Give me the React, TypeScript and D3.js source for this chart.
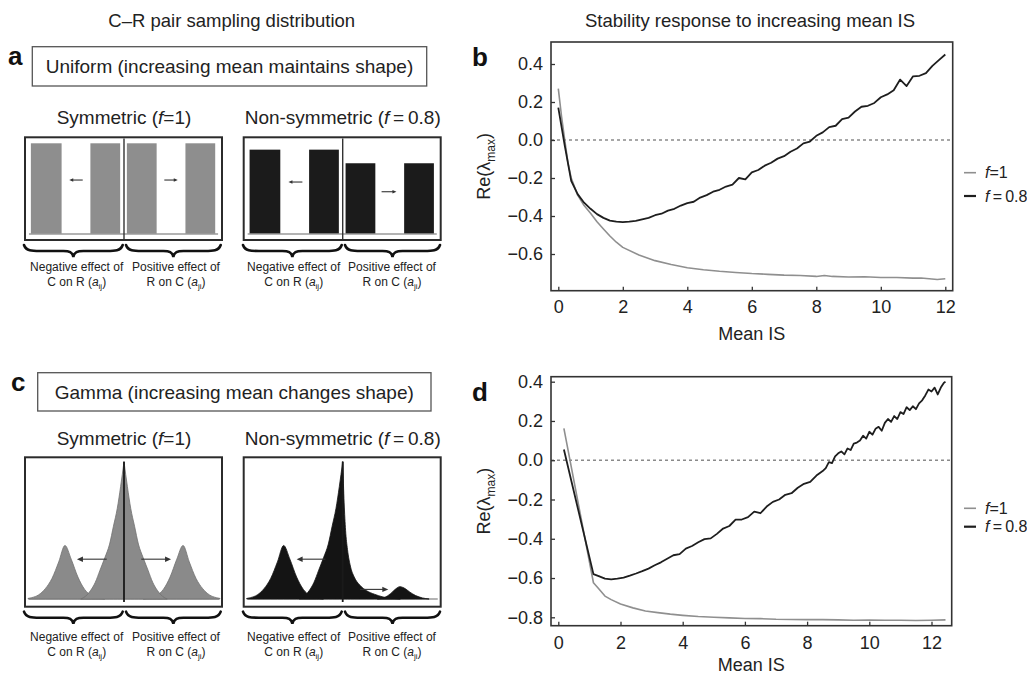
import React, { useEffect, useRef } from 'react';
import * as d3 from 'd3';

const FONT = '"Liberation Sans", Arial, Helvetica, sans-serif';
const GREY_LINE = '#8f8f8f';
const DARK_LINE = '#1e1e1e';

// ---- panel b: uniform sampling, Re(lambda max) against mean IS
const bMeanIsF1 = [0, 0.1, 0.2, 0.3, 0.4, 0.6, 0.8, 1.0, 1.2, 1.4, 1.6, 1.8, 2.0, 2.5, 3.0, 3.5, 4.0, 4.5, 5.0, 5.5, 6.0, 6.5, 7.0, 7.5, 8.0, 8.25, 8.5, 9.0, 9.5, 10.0, 10.5, 11.0, 11.25, 11.5, 11.75, 12.0];
const bReF1 = [0.27, 0.125, 0.0, -0.12, -0.2, -0.29, -0.345, -0.385, -0.43, -0.468, -0.505, -0.538, -0.565, -0.605, -0.635, -0.655, -0.672, -0.683, -0.691, -0.697, -0.703, -0.707, -0.711, -0.713, -0.718, -0.713, -0.718, -0.721, -0.72, -0.724, -0.724, -0.727, -0.726, -0.73, -0.734, -0.73];
const bMeanIsF08 = [0, 0.2, 0.4, 0.6, 0.8, 1.0, 1.2, 1.4, 1.6, 1.8, 2.0, 2.2, 2.4, 2.6, 2.8, 3.0, 3.2, 3.4, 3.6, 3.8, 4.0, 4.2, 4.4, 4.6, 4.8, 5.0, 5.2, 5.4, 5.6, 5.8, 6.0, 6.2, 6.4, 6.6, 6.8, 7.0, 7.2, 7.4, 7.6, 7.8, 8.0, 8.2, 8.4, 8.6, 8.8, 9.0, 9.2, 9.4, 9.6, 9.8, 10.0, 10.2, 10.4, 10.6, 10.8, 11.0, 11.2, 11.4, 11.6, 11.8, 12.0];
const bReF08 = [0.17, -0.03, -0.215, -0.285, -0.33, -0.362, -0.39, -0.41, -0.424, -0.43, -0.432, -0.43, -0.426, -0.418, -0.41, -0.396, -0.388, -0.372, -0.362, -0.345, -0.332, -0.325, -0.303, -0.29, -0.272, -0.262, -0.245, -0.235, -0.2, -0.207, -0.17, -0.158, -0.135, -0.12, -0.098, -0.085, -0.062, -0.045, -0.018, -0.008, 0.022, 0.04, 0.068, 0.075, 0.11, 0.118, 0.15, 0.175, 0.18, 0.195, 0.225, 0.24, 0.262, 0.318, 0.284, 0.335, 0.338, 0.352, 0.39, 0.42, 0.45];

// ---- panel d: gamma sampling
const dMeanIsF1 = [0.18, 1.13, 1.3, 1.5, 1.7, 2.0, 2.4, 2.8, 3.2, 3.6, 4.0, 4.5, 5.0, 5.5, 6.0, 6.5, 7.0, 7.5, 8.0, 8.5, 9.0, 9.5, 10.0, 10.5, 11.0, 11.5, 12.0, 12.45];
const dReF1 = [0.162, -0.624, -0.655, -0.692, -0.71, -0.732, -0.752, -0.768, -0.776, -0.784, -0.79, -0.796, -0.8, -0.803, -0.806, -0.807, -0.81, -0.811, -0.812, -0.812, -0.813, -0.815, -0.814, -0.815, -0.815, -0.816, -0.815, -0.813];
const dMeanIsF08 = [0.18, 1.13, 1.3, 1.5, 1.7, 1.9, 2.1, 2.3, 2.5, 2.7, 2.9, 3.1, 3.3, 3.5, 3.7, 3.9, 4.1, 4.3, 4.5, 4.7, 4.9, 5.1, 5.3, 5.5, 5.7, 5.9, 6.1, 6.3, 6.5, 6.7, 6.9, 7.1, 7.3, 7.5, 7.7, 7.9, 8.1, 8.3, 8.5, 8.6, 8.7, 8.8, 8.9, 9.0, 9.1, 9.2, 9.3, 9.4, 9.5, 9.6, 9.7, 9.8, 9.9, 10.0, 10.1, 10.2, 10.3, 10.4, 10.5, 10.6, 10.7, 10.8, 10.9, 11.0, 11.1, 11.2, 11.3, 11.4, 11.5, 11.6, 11.7, 11.8, 11.9, 12.0, 12.1, 12.2, 12.3, 12.4, 12.45];
const dReF08 = [0.055, -0.58, -0.59, -0.603, -0.607, -0.603, -0.598, -0.588, -0.577, -0.565, -0.552, -0.535, -0.52, -0.502, -0.484, -0.478, -0.45, -0.437, -0.418, -0.402, -0.398, -0.375, -0.348, -0.335, -0.303, -0.302, -0.29, -0.262, -0.27, -0.236, -0.212, -0.2, -0.176, -0.168, -0.14, -0.12, -0.11, -0.078, -0.055, -0.04, -0.01, -0.015, 0.02, 0.035, 0.045, 0.03, 0.06, 0.052, 0.085, 0.09, 0.1, 0.125, 0.11, 0.145, 0.13, 0.16, 0.17, 0.15, 0.19, 0.21, 0.195, 0.225, 0.21, 0.245, 0.235, 0.27, 0.255, 0.275, 0.26, 0.29, 0.305, 0.33, 0.36, 0.35, 0.37, 0.335, 0.37, 0.395, 0.4];

const xTicks = [0, 2, 4, 6, 8, 10, 12];
const bYTicks = [0.4, 0.2, 0.0, -0.2, -0.4, -0.6];
const dYTicks = [0.4, 0.2, 0.0, -0.2, -0.4, -0.6, -0.8];

// ---- panel a: uniform bars, position on the effect axis (-1..1) and relative height
const barEdges = [[-0.97, -0.65], [-0.35, -0.04], [0.03, 0.34], [0.64, 0.95]];
const barHeightsSym = [1, 1, 1, 1];
const barHeightsNonSym = [0.93, 0.93, 0.78, 0.78];
// arrows [from, to, height]
const arrowsUniformSym = [[-0.43, -0.57, 0.595], [0.42, 0.56, 0.595]];
const arrowsUniformNonSym = [[-0.42, -0.565, 0.573], [0.405, 0.56, 0.466]];

// ---- panel c: gamma density outlines [position, density]
const gammaLeftBump = [[-1.0, 0.004], [-0.96, 0.01], [-0.89, 0.03], [-0.82, 0.075], [-0.75, 0.15], [-0.68, 0.27], [-0.615, 0.39], [-0.55, 0.29], [-0.48, 0.16], [-0.41, 0.07], [-0.34, 0.025], [-0.27, 0.008], [-0.2, 0]];
const gammaSpikeLeft = [[-0.45, 0], [-0.4, 0.02], [-0.35, 0.06], [-0.3, 0.12], [-0.25, 0.21], [-0.2, 0.3], [-0.15, 0.4], [-0.11, 0.53], [-0.07, 0.66], [-0.035, 0.82], [0, 1]];
const gammaSpikeRightSym = [[0, 1], [0.035, 0.82], [0.07, 0.66], [0.11, 0.53], [0.15, 0.4], [0.2, 0.3], [0.25, 0.21], [0.3, 0.12], [0.35, 0.06], [0.4, 0.02], [0.45, 0]];
const gammaRightBumpSym = [[0.2, 0], [0.27, 0.008], [0.34, 0.025], [0.41, 0.07], [0.48, 0.16], [0.55, 0.29], [0.615, 0.39], [0.68, 0.27], [0.75, 0.15], [0.82, 0.075], [0.89, 0.03], [0.96, 0.01], [1.0, 0.004]];
const gammaSpikeRightNonSym = [[0, 1], [0.015, 0.7], [0.03, 0.5], [0.05, 0.36], [0.08, 0.24], [0.12, 0.16], [0.18, 0.1], [0.25, 0.06], [0.33, 0.035], [0.42, 0.015], [0.52, 0.005], [0.6, 0]];
const gammaRightBumpNonSym = [[0.36, 0], [0.44, 0.012], [0.5, 0.04], [0.555, 0.075], [0.595, 0.09], [0.64, 0.08], [0.7, 0.05], [0.76, 0.025], [0.83, 0.008], [0.9, 0]];
const arrowsGammaSym = [[-0.18, -0.49, 0.29], [0.18, 0.49, 0.29]];
const arrowsGammaNonSym = [[-0.18, -0.48, 0.29], [0.18, 0.475, 0.07]];

type Part = { t: string; italic?: boolean; sub?: boolean };

function addText(g: any, x: number, y: number, parts: Part[], size: number, anchor = 'middle', subSize = 0) {
  const text = g.append('text')
    .attr('x', x).attr('y', y)
    .attr('text-anchor', anchor)
    .attr('font-size', size)
    .attr('fill', '#222');
  let shifted = false;
  parts.forEach(p => {
    const ts = text.append('tspan').text(p.t);
    if (p.italic) ts.attr('font-style', 'italic');
    if (p.sub) {
      ts.attr('font-size', subSize || size * 0.65).attr('dy', size * 0.28);
      shifted = true;
    } else if (shifted) {
      ts.attr('dy', -size * 0.28);
      shifted = false;
    }
  });
  return text;
}

function bracePath(x1: number, x2: number, y: number, h: number) {
  const m = (x1 + x2) / 2;
  const q = h / 2;
  return `M${x1},${y} C${x1 + 2},${y + q} ${x1 + 8},${y + q} ${x1 + 16},${y + q} L${m - 10},${y + q} ` +
    `C${m - 4},${y + q} ${m - 1},${y + q + 1} ${m},${y + h} C${m + 1},${y + q + 1} ${m + 4},${y + q} ${m + 10},${y + q} ` +
    `L${x2 - 16},${y + q} C${x2 - 8},${y + q} ${x2 - 2},${y + q} ${x2},${y}`;
}

function drawArrows(g: any, arrows: number[][], u: any, h: any, head: number) {
  arrows.forEach(([from, to, at]) => {
    const x1 = u(from), x2 = u(to), y = h(at);
    const s = Math.sign(x2 - x1);
    g.append('line').attr('x1', x1).attr('x2', x2 - s * head * 0.6).attr('y1', y).attr('y2', y)
      .attr('stroke', '#333').attr('stroke-width', 1.1);
    g.append('path')
      .attr('d', `M${x2},${y} L${x2 - s * head},${y - head * 0.45} L${x2 - s * head},${y + head * 0.45} Z`)
      .attr('fill', '#333');
  });
}

function drawBraces(svg: any, y0: number, textY: number, sym: boolean) {
  const spans = sym ? [[24, 122.7, 76.7, 'ij'], [126, 220.7, 176, 'ji']] : [[243, 341.7, 293.7, 'ij'], [345, 440, 392, 'ji']];
  spans.forEach(([x1, x2, cx, idx]: any) => {
    svg.append('path').attr('d', bracePath(x1, x2, y0, 12))
      .attr('fill', 'none').attr('stroke', '#111').attr('stroke-width', 2.6).attr('stroke-linecap', 'round');
    const neg = idx === 'ij';
    addText(svg, cx, textY, [{ t: neg ? 'Negative effect of' : 'Positive effect of' }], 12);
    addText(svg, cx, textY + 15, [
      { t: neg ? 'C on R (' : 'R on C (' }, { t: 'a', italic: true }, { t: idx, sub: true }, { t: ')' }
    ], 12, 'middle', 8);
  });
}

function drawUniform(svg: any, left: number, cx: number, heights: number[], arrows: number[][], fill: string) {
  const g = svg.append('g');
  const u = d3.scaleLinear().domain([-1, 1]).range([cx - 96, cx + 96]);
  const h = d3.scaleLinear().domain([0, 1]).range([234, 143.3]);
  g.append('rect').attr('x', left).attr('y', 137.3).attr('width', 197).attr('height', 102.7)
    .attr('fill', '#fff').attr('stroke', '#2b2b2b').attr('stroke-width', 2);
  g.selectAll('.bar').data(barEdges).enter().append('rect')
    .attr('x', (d: number[]) => u(d[0]))
    .attr('width', (d: number[]) => u(d[1]) - u(d[0]))
    .attr('y', (_: any, i: number) => h(heights[i]))
    .attr('height', (_: any, i: number) => h(0) - h(heights[i]))
    .attr('fill', fill);
  g.append('line').attr('x1', u(-0.99)).attr('x2', u(0.98)).attr('y1', h(0)).attr('y2', h(0))
    .attr('stroke', '#9a9a9a').attr('stroke-width', 1.5);
  g.append('line').attr('x1', u(0)).attr('x2', u(0)).attr('y1', 138.5).attr('y2', 239)
    .attr('stroke', '#333').attr('stroke-width', 1.4);
  drawArrows(g, arrows, u, h, 4);
}

function drawGamma(svg: any, left: number, cx: number, shapes: number[][][], arrows: number[][], fill: string, stroke: string) {
  const g = svg.append('g');
  const u = d3.scaleLinear().domain([-1, 1]).range([cx - 96, cx + 96]);
  const h = d3.scaleLinear().domain([0, 1]).range([599, 461.7]);
  g.append('rect').attr('x', left).attr('y', 457.3).attr('width', 197).attr('height', 149.4)
    .attr('fill', '#fff').attr('stroke', '#2b2b2b').attr('stroke-width', 2);
  g.append('line').attr('x1', u(-0.99)).attr('x2', u(0.99)).attr('y1', h(0)).attr('y2', h(0))
    .attr('stroke', '#9a9a9a').attr('stroke-width', 1.4);
  const area = d3.area<number[]>()
    .x(d => u(d[0])).y0(h(0)).y1(d => h(d[1]))
    .curve(d3.curveMonotoneX);
  shapes.forEach(s => {
    g.append('path').attr('d', area(s)).attr('fill', fill).attr('stroke', stroke).attr('stroke-width', 0.8);
  });
  g.append('line').attr('x1', u(0)).attr('x2', u(0)).attr('y1', h(1)).attr('y2', h(0) + 3)
    .attr('stroke', '#1a1a1a').attr('stroke-width', 1.8);
  drawArrows(g, arrows, u, h, 6);
}

function drawStability(svg: any, cfg: any) {
  const { box, x, y, yTicks, f1X, f1Y, f08X, f08Y, letter, legendY, legendGap, xPad, titleY } = cfg;
  const g = svg.append('g');

  g.append('line').attr('x1', box.left).attr('x2', box.right).attr('y1', y(0)).attr('y2', y(0))
    .attr('stroke', '#8a8a8a').attr('stroke-width', 1.3).attr('stroke-dasharray', '3,3');

  const line = d3.line<[number, number]>().x(d => x(d[0])).y(d => y(d[1]));
  g.append('path').attr('d', line(d3.zip(f1X, f1Y) as any)).attr('fill', 'none')
    .attr('stroke', GREY_LINE).attr('stroke-width', 1.6).attr('stroke-linejoin', 'round');
  g.append('path').attr('d', line(d3.zip(f08X, f08Y) as any)).attr('fill', 'none')
    .attr('stroke', DARK_LINE).attr('stroke-width', 1.8).attr('stroke-linejoin', 'round');

  const yAxis = g.append('g').attr('transform', `translate(${box.left},0)`)
    .call(d3.axisLeft(y).tickValues(yTicks).tickSize(-4).tickPadding(8).tickFormat(d3.format('.1f')));
  const xAxis = g.append('g').attr('transform', `translate(0,${box.bottom})`)
    .call(d3.axisBottom(x).tickValues(xTicks).tickSize(-4).tickPadding(xPad).tickFormat(d3.format('d')));
  [yAxis, xAxis].forEach(a => {
    a.select('.domain').remove();
    a.selectAll('line').attr('stroke', '#333').attr('stroke-width', 1.3);
    a.selectAll('text').attr('font-size', 18).attr('font-family', FONT).attr('fill', '#222');
  });

  g.append('rect').attr('x', box.left).attr('y', box.top)
    .attr('width', box.right - box.left).attr('height', box.bottom - box.top)
    .attr('fill', 'none').attr('stroke', '#333').attr('stroke-width', 1.6);

  const cx = (box.left + box.right) / 2;
  const cy = (box.top + box.bottom) / 2;
  addText(svg, cx, titleY, [{ t: 'Mean IS' }], 18);
  addText(svg, 0, 0, [{ t: 'Re(' }, { t: '\u03bb' }, { t: 'max', sub: true }, { t: ')' }], 18, 'middle', 12)
    .attr('transform', `translate(490,${cy}) rotate(-90)`);

  svg.append('text').attr('x', 472).attr('y', box.top + 24).attr('font-size', 26)
    .attr('font-weight', 'bold').attr('fill', '#111').text(letter);

  const legend = [{ c: GREY_LINE, w: 1.6, v: '1' }, { c: DARK_LINE, w: 2.2, v: '\u20090.8' }];
  legend.forEach((l, i) => {
    const ly = legendY + i * legendGap;
    svg.append('line').attr('x1', 964).attr('x2', 976).attr('y1', ly).attr('y2', ly)
      .attr('stroke', l.c).attr('stroke-width', l.w);
    addText(svg, 985, ly + 5.5, [{ t: 'f', italic: true }, { t: (i ? '\u2009=' : '=') + l.v }], 16, 'start');
  });
}

export default function App() {
  const svgRef = useRef<SVGSVGElement>(null);

  useEffect(() => {
    const svg = d3.select(svgRef.current);
    svg.selectAll('*').remove();

    // column headers
    addText(svg, 231.7, 26.5, [{ t: 'C\u2013R pair sampling distribution' }], 18.5);
    addText(svg, 750, 26.5, [{ t: 'Stability response to increasing mean IS' }], 18.5);

    // panel a
    svg.append('text').attr('x', 8).attr('y', 65).attr('font-size', 26).attr('font-weight', 'bold').attr('fill', '#111').text('a');
    svg.append('rect').attr('x', 32.3).attr('y', 46.7).attr('width', 394.4).attr('height', 39.3)
      .attr('fill', '#fff').attr('stroke', '#555').attr('stroke-width', 1.3);
    addText(svg, 229.5, 73, [{ t: 'Uniform (increasing mean maintains shape)' }], 19);
    addText(svg, 124, 124, [{ t: 'Symmetric (' }, { t: 'f', italic: true }, { t: '=1)' }], 19);
    addText(svg, 342.7, 124, [{ t: 'Non-symmetric (' }, { t: 'f', italic: true }, { t: '\u2009=\u20090.8)' }], 19);
    drawUniform(svg, 25, 124, barHeightsSym, arrowsUniformSym, '#8e8e8e');
    drawUniform(svg, 243.7, 342.7, barHeightsNonSym, arrowsUniformNonSym, '#1b1b1b');
    drawBraces(svg, 245, 271, true);
    drawBraces(svg, 245, 271, false);

    // panel c
    svg.append('text').attr('x', 11).attr('y', 391).attr('font-size', 26).attr('font-weight', 'bold').attr('fill', '#111').text('c');
    svg.append('rect').attr('x', 37.7).attr('y', 372.7).attr('width', 393.3).attr('height', 38.3)
      .attr('fill', '#fff').attr('stroke', '#555').attr('stroke-width', 1.3);
    addText(svg, 234.3, 398.5, [{ t: 'Gamma (increasing mean changes shape)' }], 19);
    addText(svg, 124, 445, [{ t: 'Symmetric (' }, { t: 'f', italic: true }, { t: '=1)' }], 19);
    addText(svg, 342.7, 445, [{ t: 'Non-symmetric (' }, { t: 'f', italic: true }, { t: '\u2009=\u20090.8)' }], 19);
    drawGamma(svg, 25, 124, [gammaLeftBump, gammaRightBumpSym, gammaSpikeLeft, gammaSpikeRightSym],
      arrowsGammaSym, '#8a8a8a', '#707070');
    drawGamma(svg, 243.7, 342.7, [gammaLeftBump, gammaRightBumpNonSym, gammaSpikeLeft, gammaSpikeRightNonSym],
      arrowsGammaNonSym, '#141414', '#141414');
    drawBraces(svg, 611.7, 641, true);
    drawBraces(svg, 611.7, 641, false);

    // panel b
    drawStability(svg, {
      box: { left: 551, right: 952.7, top: 42, bottom: 290.7 },
      x: d3.scaleLinear().domain([0, 12]).range([558.3, 945.3]),
      y: d3.scaleLinear().domain([-0.6, 0.4]).range([254, 64]),
      yTicks: bYTicks, f1X: bMeanIsF1, f1Y: bReF1, f08X: bMeanIsF08, f08Y: bReF08,
      letter: 'b', legendY: 172.7, legendGap: 23.3, xPad: 10, titleY: 340
    });

    // panel d
    drawStability(svg, {
      box: { left: 551, right: 951.7, top: 376.7, bottom: 625.7 },
      x: d3.scaleLinear().domain([0, 12]).range([558.3, 931.5]),
      y: d3.scaleLinear().domain([-0.8, 0.4]).range([617.3, 381.7]),
      yTicks: dYTicks, f1X: dMeanIsF1, f1Y: dReF1, f08X: dMeanIsF08, f08Y: dReF08,
      letter: 'd', legendY: 508.3, legendGap: 18.4, xPad: 10.5, titleY: 671
    });
  }, []);

  return (
    <svg
      ref={svgRef}
      width={1027}
      height={678}
      style={{ position: 'absolute', left: 0, top: 0, background: '#fff', fontFamily: FONT }}
    />
  );
}
